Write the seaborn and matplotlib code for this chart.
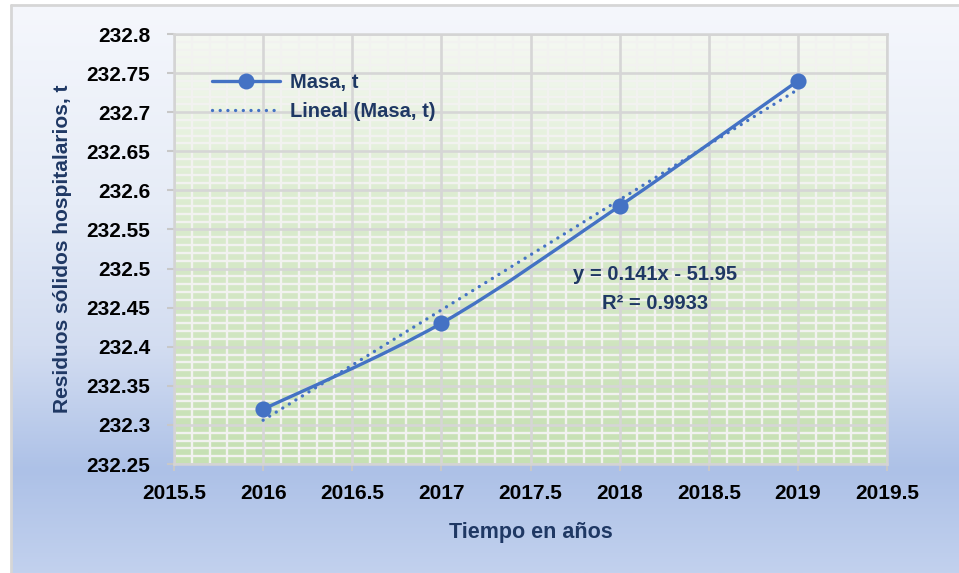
import numpy as np
import pandas as pd
import matplotlib
matplotlib.use("Agg")
import matplotlib.pyplot as plt
import seaborn as sns
from matplotlib.path import Path
from matplotlib.patches import PathPatch
from matplotlib.lines import Line2D
from matplotlib.colors import LinearSegmentedColormap
from matplotlib.ticker import MultipleLocator

# ---- data ----
years = [2016, 2017, 2018, 2019]
masa = [232.32, 232.43, 232.58, 232.74]
series_label = "Masa, t"
trend_label = "Lineal (Masa, t)"
x_label = "Tiempo en años"
y_label = "Residuos sólidos hospitalarios, t"
x_ticks = [2015.5, 2016, 2016.5, 2017, 2017.5, 2018, 2018.5, 2019, 2019.5]
x_tick_labels = ["2015.5", "2016", "2016.5", "2017", "2017.5", "2018", "2018.5", "2019", "2019.5"]
y_ticks = [232.25, 232.3, 232.35, 232.4, 232.45, 232.5, 232.55, 232.6, 232.65, 232.7, 232.75, 232.8]
y_tick_labels = ["232.25", "232.3", "232.35", "232.4", "232.45", "232.5", "232.55",
                 "232.6", "232.65", "232.7", "232.75", "232.8"]

df = pd.DataFrame({"year": years, "masa": masa})
slope, intercept = np.polyfit(df["year"], df["masa"], 1)
fit = slope * df["year"] + intercept
r2 = 1 - np.sum((df["masa"] - fit) ** 2) / np.sum((df["masa"] - df["masa"].mean()) ** 2)
df["trend"] = fit

sns.set_theme(style="white")
FONT = ["Liberation Sans", "DejaVu Sans"]
plt.rcParams["font.family"] = FONT
plt.rcParams["font.weight"] = "bold"

W, H = 959, 573
fig = plt.figure(figsize=(W / 100, H / 100), dpi=100)
fig.patch.set_facecolor("white")

# figure background gradient
bg = fig.add_axes([11 / W, 0, 1 - 11 / W, 1 - 6 / H], zorder=-5)
bg_cmap = LinearSegmentedColormap.from_list(
    "bg", [(0, "#f5f7fc"), (0.35, "#e6ecf7"), (0.6, "#d3ddf1"), (0.82, "#adc1e7"), (1.0, "#c2d1ee")])
bg.imshow(np.linspace(0, 1, 256).reshape(-1, 1), aspect="auto", cmap=bg_cmap,
          extent=[0, 1, 1, 0])
bg.set_xlim(0, 1); bg.set_ylim(1, 0)
bg.axis("off")
# border
fig.add_artist(Line2D([10.5 / W, 10.5 / W], [0, 1 - 5 / H], color="#d6d6d6", lw=2,
                      transform=fig.transFigure))
fig.add_artist(Line2D([10.5 / W, 1], [1 - 5 / H, 1 - 5 / H], color="#d6d6d6", lw=2,
                      transform=fig.transFigure))

ax = fig.add_axes([174 / W, 1 - 464 / H, (887 - 174) / W, (464 - 34) / H])
ax.patch.set_alpha(0)
pa_cmap = LinearSegmentedColormap.from_list(
    "pa", [(0, "#f5f8f2"), (0.12, "#eef5e9"), (0.35, "#deedd3"), (0.55, "#d5e8c7"), (1.0, "#c6e0b3")])
ax.imshow(np.linspace(0, 1, 256).reshape(-1, 1), aspect="auto", cmap=pa_cmap, origin="upper",
          extent=[0, 1, 0, 1], transform=ax.transAxes, zorder=-10)

ax.set_xlim(2015.5, 2019.5)
ax.set_ylim(232.25, 232.8)
ax.xaxis.set_minor_locator(MultipleLocator(0.1))
ax.yaxis.set_minor_locator(MultipleLocator(0.01))
ax.set_xticks(x_ticks)
ax.set_xticklabels(x_tick_labels)
ax.set_yticks(y_ticks)
ax.set_yticklabels(y_tick_labels)

# minor grid (white) below, major grid (gray) on top of it
ax.grid(which="minor", color="#f2f2f0", lw=1.7, zorder=0)
ax.grid(which="major", visible=False)
ax.vlines(x_ticks, 232.25, 232.8, colors="#d6d6d6", lw=1.9, zorder=1)
ax.hlines(y_ticks, 2015.5, 2019.5, colors="#d6d6d6", lw=1.9, zorder=1)
for s in ax.spines.values():
    s.set_color("#d4d4d4")
    s.set_linewidth(1.8)

ax.tick_params(axis="both", which="major", length=5, width=1.5, color="#c8c8c8",
               labelsize=15, labelcolor="black", direction="out")
ax.tick_params(axis="y", which="major", pad=12, left=True)
ax.tick_params(axis="x", which="major", pad=9.5, bottom=True)
ax.tick_params(which="minor", length=0)
for lbl in ax.get_xticklabels() + ax.get_yticklabels():
    lbl.set_fontweight("bold")
    lbl.set_family(FONT)

blue = "#4472c4"
navy = "#1f3864"

# smoothed series line (Bezier through the data points)
pts = np.column_stack([df["year"].to_numpy(float), df["masa"].to_numpy(float)])
n = len(pts)
verts = [pts[0]]
codes = [Path.MOVETO]
for i in range(n - 1):
    p0 = pts[max(i - 1, 0)]
    p1 = pts[i]
    p2 = pts[i + 1]
    p3 = pts[min(i + 2, n - 1)]
    c1 = p1 + (p2 - p0) / 6
    c2 = p2 - (p3 - p1) / 6
    verts += [c1, c2, p2]
    codes += [Path.CURVE4] * 3
ax.add_patch(PathPatch(Path(verts, codes), facecolor="none", edgecolor=blue, lw=2.4,
                       capstyle="round", joinstyle="round", zorder=4))

# trendline
sns.lineplot(data=df, x="year", y="trend", ax=ax, color=blue, lw=2.4, zorder=3, legend=False)
tl = ax.lines[-1]
tl.set_linestyle((0, (0.01, 2.3)))
tl.set_dash_capstyle("round")

# markers
sns.scatterplot(data=df, x="year", y="masa", ax=ax, color=blue, s=135, edgecolor=blue,
                linewidth=0, zorder=5, legend=False)

ax.set_xlabel(x_label, fontsize=15.5, fontweight="bold", color=navy, family=FONT)
ax.set_ylabel(y_label, fontsize=15, fontweight="bold", color=navy, family=FONT)
ax.xaxis.set_label_coords(0.5, -0.16)
ax.xaxis.label.set_va("center")
ax.yaxis.set_label_coords(-0.157, 0.5)
ax.yaxis.label.set_va("center")

# trendline equation
ax.text(2018.20, 232.492, f"y = {slope:.3f}x - {abs(intercept):.2f}", ha="center", va="center",
        fontsize=14.5, fontweight="bold", color=navy, zorder=6, family=FONT)
ax.text(2018.20, 232.455, f"R² = {r2:.4f}", ha="center", va="center",
        fontsize=14.5, fontweight="bold", color=navy, zorder=6, family=FONT)

# legend
h1 = Line2D([], [], color=blue, lw=2.4, marker="o", markersize=11.5, markeredgewidth=0)
h2 = Line2D([], [], color=blue, lw=2.4, linestyle=(0, (0.01, 2.3)), dash_capstyle="round")
leg = ax.legend([h1, h2], [series_label, trend_label], loc="upper left",
                bbox_to_anchor=(212 / W, 1 - 73 / H), bbox_transform=fig.transFigure,
                frameon=False, handlelength=3.4, handletextpad=0.45,
                labelspacing=0.5, borderpad=0, borderaxespad=0,
                prop={"family": FONT, "weight": "bold", "size": 14.5})
for t in leg.get_texts():
    t.set_color(navy)

fig.savefig("out.png", dpi=100)
